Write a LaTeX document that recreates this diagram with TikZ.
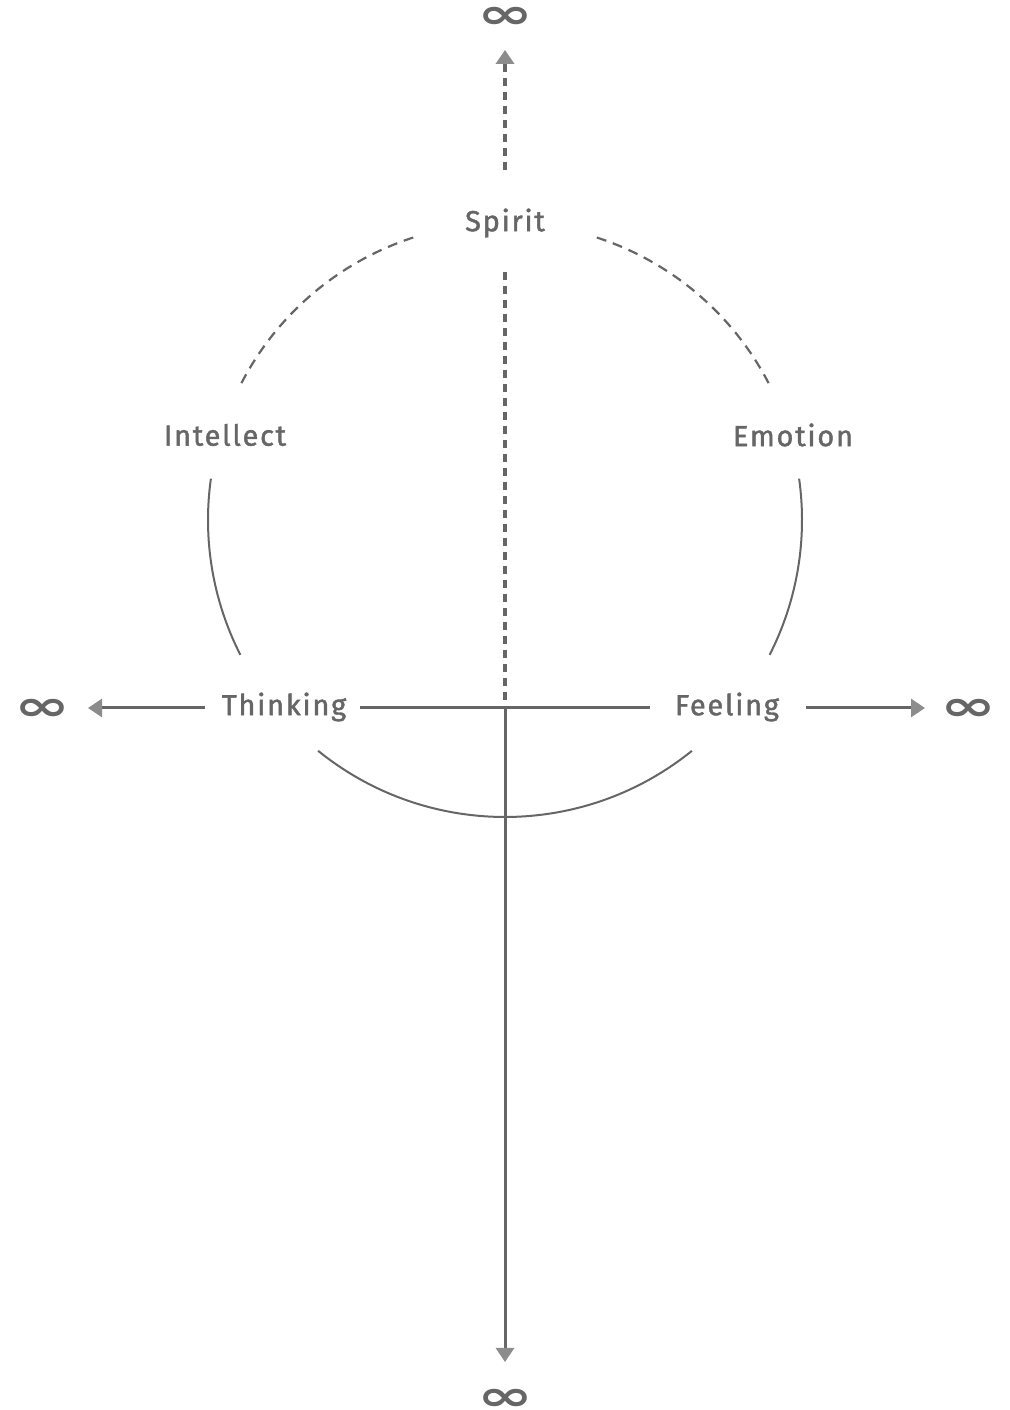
\documentclass[tikz,border=0pt]{standalone}
\usepackage{fontspec}
\usepackage{graphicx}
\setmainfont{Fira Sans}[LetterSpace=6,FakeBold=1.5]
\newfontfamily\symfont{DejaVu Sans}
\usetikzlibrary{arrows.meta}
\definecolor{lc}{HTML}{666666}
\definecolor{ac}{HTML}{8C8C8C}
\begin{document}
\begin{tikzpicture}[x=1pt,y=1pt,
  lbl/.style={text=lc,font=\fontsize{29}{34}\selectfont,inner sep=0pt},
  inf/.style={text=lc,font=\symfont\bfseries\fontsize{42}{42}\selectfont,inner sep=0pt},
  solidline/.style={draw=lc,line width=3pt},
  arcline/.style={draw=lc,line width=2pt},
  dasharc/.style={draw=lc,line width=2.2pt,dash pattern=on 10pt off 7pt},
  dashline/.style={draw=lc,line width=3.5pt,dash pattern=on 8pt off 6pt},
  tip/.style={-{Triangle[length=14pt,width=18pt,color=ac]}}
]
\useasboundingbox (0,0) rectangle (1009,1410);
\coordinate (C) at (505,890);
% arcs
\draw[dasharc] (C) ++(108:297) arc[start angle=108,end angle=153,radius=297];
\draw[dasharc] (C) ++(72:297) arc[start angle=72,end angle=27,radius=297];
\draw[arcline] (C) ++(172:297) arc[start angle=172,end angle=207,radius=297];
\draw[arcline] (C) ++(8:297) arc[start angle=8,end angle=-27,radius=297];
\draw[arcline] (C) ++(231:297) arc[start angle=231,end angle=309,radius=297];
% labels
\node[lbl] (spirit) at (505,1187) {Spirit};
\node[lbl] (intellect) at (225,975) {Intellect};
\node[lbl] (emotion) at (793,975) {Emotion};
\node[lbl] (thinking) at (284,703) {Thinking};
\node[lbl] (feeling) at (727,703) {Feeling};
\node[inf] (inftop) at (505,1392) {\scalebox{1.6}[1]{∞}};
\node[inf] (infleft) at (42,700) {\scalebox{1.6}[1]{∞}};
\node[inf] (infright) at (968,700) {\scalebox{1.6}[1]{∞}};
\node[inf] (infbot) at (505,10) {\scalebox{1.6}[1]{∞}};
% line coordinates
\coordinate (cross) at (505,702);
\coordinate (hl) at (360,702);
\coordinate (hr) at (650,702);
\coordinate (la) at (205,702);
\coordinate (lt) at (88,702);
\coordinate (ra) at (806,702);
\coordinate (rt) at (925,702);
\coordinate (vd) at (505,1138);
\coordinate (ua) at (505,1240);
\coordinate (ut) at (505,1360);
\coordinate (dt) at (505,48);
% lines
\draw[solidline] (hl) -- (hr);
\draw[solidline,tip] (la) -- (lt);
\draw[solidline,tip] (ra) -- (rt);
\draw[dashline] (vd) -- (cross);
\draw[dashline,tip] (ua) -- (ut);
\draw[solidline,tip] (cross) -- (dt);
\end{tikzpicture}
\end{document}
